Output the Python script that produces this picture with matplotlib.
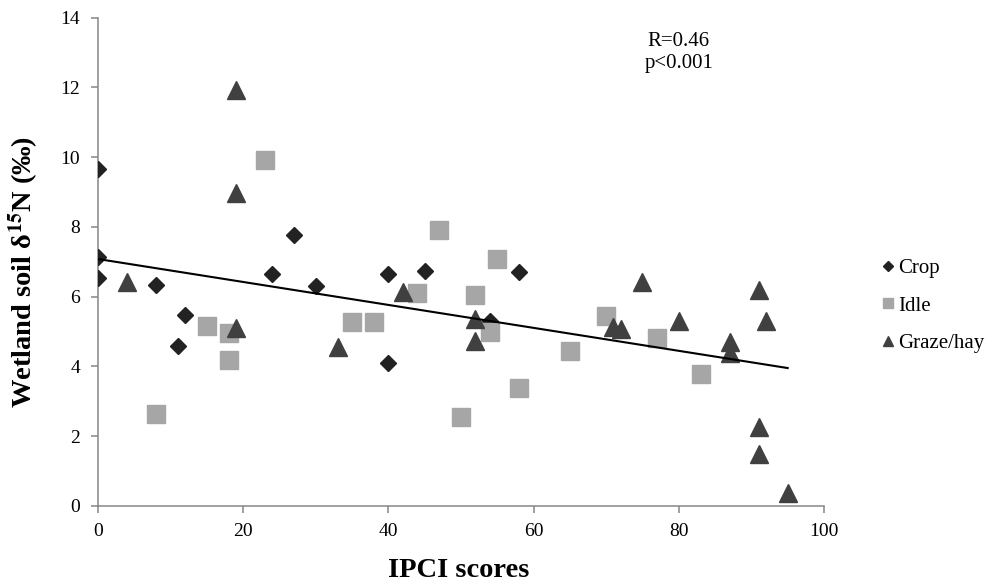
import matplotlib
matplotlib.use("Agg")
import matplotlib.pyplot as plt
import numpy as np

plt.rcParams['font.family'] = ['Liberation Serif', 'DejaVu Serif']
plt.rcParams['mathtext.fontset'] = 'stix'

crop_x = [0, 0, 0, 8, 11, 12, 24, 27, 30, 40, 40, 45, 54, 58]
crop_y = [9.67, 7.14, 6.53, 6.33, 4.59, 5.48, 6.65, 7.77, 6.31, 6.66, 4.11, 6.74, 5.30, 6.72]

idle_x = [8, 15, 18, 18, 23, 35, 38, 44, 47, 50, 52, 54, 55, 58, 65, 70, 77, 83]
idle_y = [2.64, 5.15, 4.95, 4.19, 9.93, 5.27, 5.27, 6.10, 7.92, 2.55, 6.04, 4.99, 7.08, 3.38, 4.45, 5.44, 4.82, 3.78]

graze_x = [4, 19, 19, 19, 33, 42, 52, 52, 71, 72, 75, 80, 87, 87, 91, 91, 91, 92, 95]
graze_y = [6.43, 11.93, 8.97, 5.10, 4.55, 6.13, 5.36, 4.74, 5.14, 5.07, 6.43, 5.29, 4.69, 4.38, 6.18, 2.25, 1.48, 5.29, 0.36]

trend_intercept = 7.08
trend_slope = -0.0329

x_ticks = [0, 20, 40, 60, 80, 100]
y_ticks = [0, 2, 4, 6, 8, 10, 12, 14]

fig = plt.figure(figsize=(9.87, 5.88), dpi=100)
ax = fig.add_axes([0.0993, 0.1395, 0.7355, 0.8305])

ax.plot(crop_x, crop_y, linestyle='none', marker='D', markersize=8.5,
        color='#222222', label='Crop', zorder=3)
ax.plot(idle_x, idle_y, linestyle='none', marker='s', markersize=13.5,
        color='#a6a6a6', label='Idle', zorder=3)
ax.plot(graze_x, graze_y, linestyle='none', marker='^', markersize=12.7,
        color='#404040', label='Graze/hay', zorder=3)

all_x = np.array(crop_x + idle_x + graze_x)
tx = np.array([all_x.min(), all_x.max()])
ax.plot(tx, trend_intercept + trend_slope * tx, color='black', linewidth=1.5, zorder=4)

ax.set_xlim(0, 100)
ax.set_ylim(0, 14)
ax.set_xticks(x_ticks)
ax.set_yticks(y_ticks)
ax.tick_params(axis='both', direction='out', length=5, width=1.1, color='#868686',
               labelsize=14, labelcolor='black')
ax.tick_params(axis='x', pad=7)
ax.tick_params(axis='y', pad=8)
for s in ['top', 'right']:
    ax.spines[s].set_visible(False)
for s in ['left', 'bottom']:
    ax.spines[s].set_color('#868686')
    ax.spines[s].set_linewidth(1.1)

ax.set_xlabel('IPCI scores', fontsize=20.5, fontweight='bold')
ax.set_ylabel(r'Wetland soil δ$^{\mathbf{15}}$N (‰)', fontsize=20.5, fontweight='bold')
ax.xaxis.label.set_va('center')
ax.yaxis.label.set_va('center')
ax.xaxis.set_label_coords(0.497, -0.133)
ax.yaxis.set_label_coords(-0.102, 0.479)

ax.text(0.80, 0.928, 'R=0.46\np<0.001', transform=ax.transAxes, ha='center', va='center',
        fontsize=15, linespacing=1.2)

fig.legend(loc='center left', bbox_to_anchor=(0.885, 0.48), frameon=False,
           fontsize=15, markerscale=0.55, handlelength=0.55, handletextpad=0.25,
           labelspacing=0.85, borderaxespad=0)

fig.savefig('out.png', dpi=100)
